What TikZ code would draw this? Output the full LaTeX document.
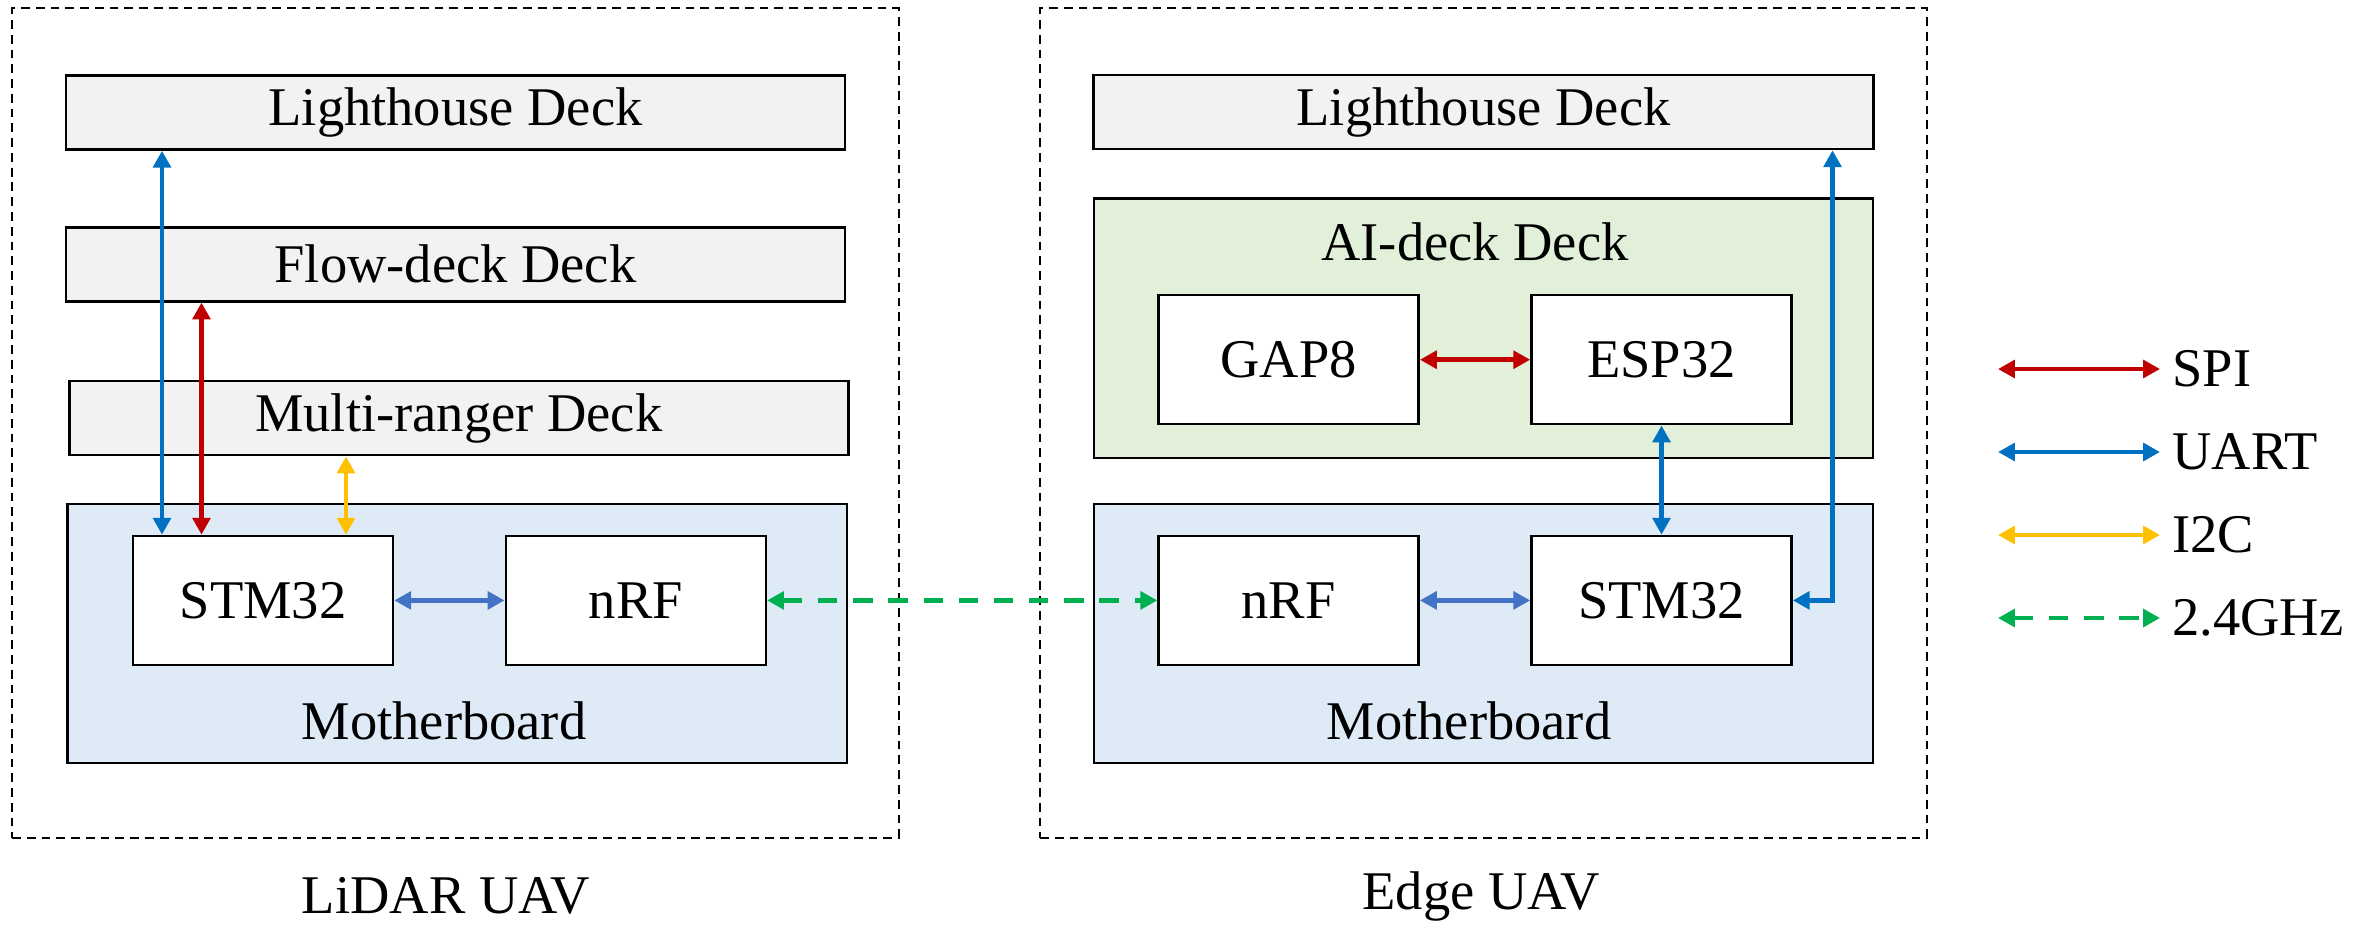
\documentclass[tikz,border=0pt]{standalone}
\usepackage{fontspec}
\setmainfont{Liberation Serif}
\usepackage{tikz}
\usetikzlibrary{arrows.meta}

\definecolor{deckgray}{HTML}{F2F2F2}
\definecolor{mbblue}{HTML}{DEEBF7}
\definecolor{aigreen}{HTML}{E2F0D9}
\definecolor{spired}{HTML}{C00000}
\definecolor{uartblue}{HTML}{0070C0}
\definecolor{busblue}{HTML}{4472C4}
\definecolor{ictwo}{HTML}{FFC000}
\definecolor{radiogreen}{HTML}{00B050}

\tikzset{
    every node/.style={font=\fontsize{15.5}{18}\selectfont},
    box/.style={draw, line width=0.7pt, inner sep=0pt},
    deck/.style={box, fill=deckgray, minimum height=0.74cm},
    mboard/.style={box, fill=mbblue, minimum width=7.79cm, minimum height=2.59cm},
    aideck/.style={box, fill=aigreen, minimum width=7.79cm, minimum height=2.59cm},
    chip/.style={box, fill=white, minimum width=2.6cm, minimum height=1.29cm},
    uav/.style={draw, line width=0.6pt, dash pattern=on 2.5pt off 1.7pt, minimum width=8.86cm, minimum height=8.29cm},
    link/.style={line width=1.4pt, {Triangle[length=4.8pt,width=5pt]}-{Triangle[length=4.8pt,width=5pt]}},
    spi/.style={link, spired},
    uart/.style={link, uartblue},
    bus/.style={link, busblue},
    itwoc/.style={link, ictwo},
    radio/.style={link, radiogreen, dash pattern=on 5.5pt off 4.5pt}
}

\begin{document}
\begin{tikzpicture}[x=0.01cm, y=-0.01cm]
    \useasboundingbox (0,0) rectangle (2379,926);

    % LiDAR UAV
    \node[uav] (uavL) at (455.3,423) {};
    \node[deck, minimum width=7.79cm] (lhL) at (455.5,112.5) {Lighthouse Deck};
    \node[deck, minimum width=7.79cm] (flL) at (455.5,264.3) {Flow-deck Deck};
    \node[deck, minimum width=7.785cm] (mrL) at (458.8,418.2) {Multi-ranger Deck};
    \node[mboard] (mbL) at (457.2,633.4) {};
    \node (mbLtxt) at (444,720.6) {Motherboard};
    \node[chip] (stmL) at (263,600.4) {STM32};
    \node[chip] (nrfL) at (635.8,600.4) {nRF};
    \node (lidar) at (446,896) {LiDAR UAV};

    % Edge UAV
    \node[uav] (uavR) at (1483.4,423) {};
    \node[deck, minimum width=7.796cm] (lhR) at (1483.5,112) {Lighthouse Deck};
    \node[aideck] (aiR) at (1483.5,328.2) {};
    \node (aiRtxt) at (1475,242) {AI-deck Deck};
    \node[chip] (gap) at (1288.6,359.7) {GAP8};
    \node[chip] (esp) at (1661.5,359.7) {ESP32};
    \node[mboard] (mbR) at (1483.5,633.5) {};
    \node (mbRtxt) at (1469,720.6) {Motherboard};
    \node[chip] (nrfR) at (1288.6,600.4) {nRF};
    \node[chip] (stmR) at (1661.5,600.4) {STM32};
    \node (edge) at (1481,896) {Edge UAV};

    % buses
    \coordinate (uL) at (162,0);
    \coordinate (sL) at (201.5,0);
    \coordinate (iL) at (346,0);
    \coordinate (uR) at (1832.5,0);
    \draw[uart] (lhL.south -| uL) -- (stmL.north -| uL);
    \draw[spi] (flL.south -| sL) -- (stmL.north -| sL);
    \draw[itwoc] (mrL.south -| iL) -- (stmL.north -| iL);
    \draw[bus] (stmL.east) -- (nrfL.west);
    \draw[radio] (nrfL.east) -- (nrfR.west);
    \draw[bus] (nrfR.east) -- (stmR.west);
    \draw[spi] (gap.east) -- (esp.west);
    \draw[uart] (esp.south) -- (stmR.north);
    \draw[uart] (lhR.south -| uR) |- (stmR.east);

    % legend
    \foreach \y/\sty/\txt in {369/spi/SPI, 452/uart/UART, 535/itwoc/I2C, 618/radio/2.4GHz}{
        \coordinate (s\sty) at (1998,\y);
        \node[anchor=west] (l\sty) at (2160,\y) {\txt};
        \draw[\sty] (s\sty) -- (l\sty.west);
    }
\end{tikzpicture}
\end{document}
